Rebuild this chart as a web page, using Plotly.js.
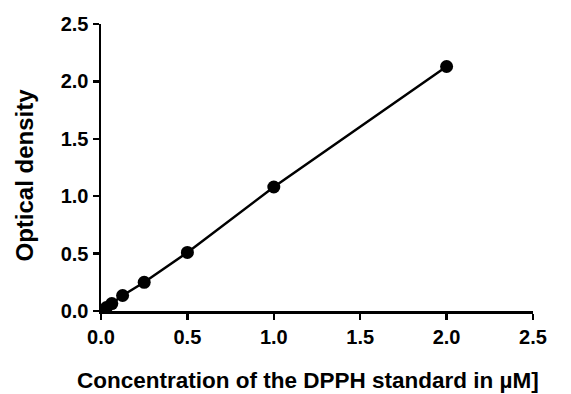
<!DOCTYPE html>
<html>
<head>
<meta charset="utf-8">
<script src="https://cdn.plot.ly/plotly-3.0.1.min.js"></script>
<style>html,body{margin:0;padding:0;background:#fff;}#chart{width:571px;height:394px;}</style>
</head>
<body>
<div id="chart"></div>
<script>
const concentration = [0.03125, 0.0625, 0.125, 0.25, 0.5, 1.0, 2.0];
const opticalDensity = [0.03, 0.065, 0.135, 0.25, 0.51, 1.08, 2.13];
const tickValues = [0, 0.5, 1.0, 1.5, 2.0, 2.5];
const tickLabels = ["0.0", "0.5", "1.0", "1.5", "2.0", "2.5"];
const xTitle = "Concentration of the DPPH standard in µM]";
const yTitle = "Optical density";

const font = "Liberation Sans, Arial, sans-serif";
const axisCommon = {
  range: [0, 2.5],
  showgrid: false,
  zeroline: false,
  showline: true,
  linecolor: "#000",
  linewidth: 2.5,
  ticks: "outside",
  ticklen: 6,
  tickwidth: 2.5,
  tickcolor: "#000",
  tickmode: "array",
  tickvals: tickValues,
  ticktext: tickLabels,
  tickfont: {family: font, size: 20, color: "#000", weight: "bold"},
  fixedrange: true
};

Plotly.newPlot("chart", [{
  x: concentration,
  y: opticalDensity,
  mode: "lines+markers",
  line: {color: "#000", width: 2.5},
  marker: {color: "#000", size: 13},
  cliponaxis: false,
  showlegend: false
}], {
  width: 571,
  height: 394,
  margin: {l: 101, r: 38, t: 24, b: 83},
  paper_bgcolor: "#fff",
  plot_bgcolor: "#fff",
  xaxis: axisCommon,
  yaxis: axisCommon,
  annotations: [
    {text: xTitle, xref: "paper", yref: "paper", x: 0.48, y: -0.243, xanchor: "center", yanchor: "middle",
     showarrow: false, font: {family: font, size: 22.5, color: "#000", weight: "bold"}},
    {text: yTitle, xref: "paper", yref: "paper", x: -0.177, y: 0.474, xanchor: "center", yanchor: "middle",
     textangle: -90, showarrow: false, font: {family: font, size: 24, color: "#000", weight: "bold"}}
  ]
}, {staticPlot: true});
</script>
</body>
</html>
